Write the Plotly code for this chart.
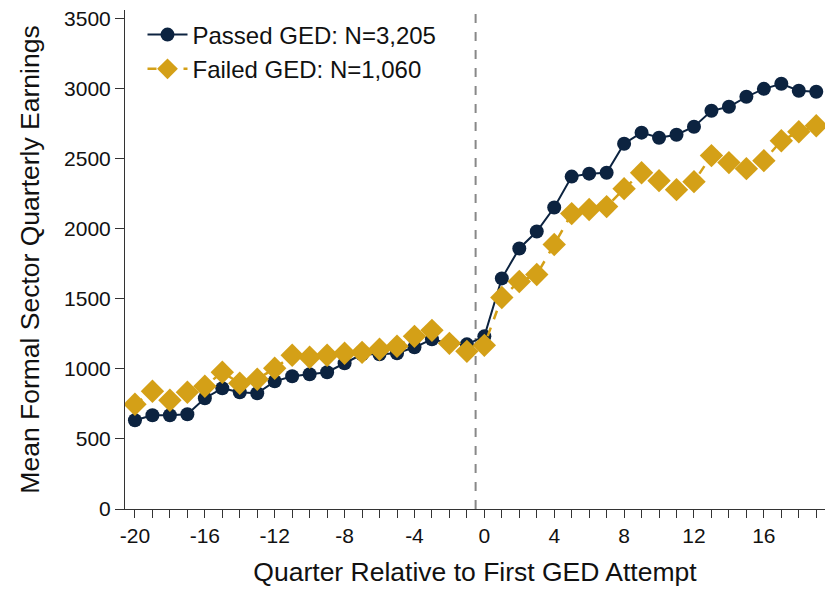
import plotly.graph_objects as go

quarters = list(range(-20, 20))
passed = [634, 670, 670, 677, 791, 862, 834, 827, 912, 948, 962, 977, 1041, 1105, 1105, 1112, 1155, 1212, 1183, 1176,
          1233, 1647, 1861, 1982, 2153, 2374, 2395, 2402, 2609, 2688, 2652, 2673, 2730, 2844, 2873, 2944, 3001, 3037, 2987, 2980]
failed = [748, 841, 777, 834, 877, 977, 898, 927, 1005, 1098, 1084, 1098, 1112, 1119, 1141, 1162, 1233, 1276, 1183, 1126,
          1169, 1511, 1625, 1675, 1889, 2110, 2139, 2160, 2288, 2402, 2345, 2281, 2338, 2524, 2474, 2431, 2488, 2630, 2694, 2737]
x_ticks = list(range(-20, 20))
x_labels = [str(v) if v % 4 == 0 else "" for v in x_ticks]
y_ticks = [0, 500, 1000, 1500, 2000, 2500, 3000, 3500]

NAVY = "#0c2340"
GOLD = "#d4a017"

fig = go.Figure()
fig.add_trace(go.Scatter(x=quarters, y=passed, mode="lines+markers", name="Passed GED: N=3,205",
                         line=dict(color=NAVY, width=2),
                         marker=dict(symbol="circle", size=14, color=NAVY)))
fig.add_trace(go.Scatter(x=quarters, y=failed, mode="lines+markers", name="Failed GED: N=1,060",
                         line=dict(color=GOLD, width=2.5, dash="dash"),
                         marker=dict(symbol="diamond", size=18, color=GOLD)))
fig.add_shape(type="line", x0=-0.5, x1=-0.5, y0=0, y1=1, yref="paper", xref="x",
              line=dict(color="#888888", width=2, dash="dash"), layer="below")

fig.update_layout(
    width=825, height=592,
    margin=dict(l=125, r=0, t=10, b=83),
    paper_bgcolor="white", plot_bgcolor="white",
    font=dict(family="Liberation Sans, Arial, sans-serif", color="#111111"),
    showlegend=True,
    legend=dict(x=0.025, y=0.995, xanchor="left", yanchor="top", traceorder="normal",
                font=dict(size=24), bgcolor="rgba(0,0,0,0)", itemwidth=40, tracegroupgap=0),
    xaxis=dict(range=[-20.57, 19.5], tickmode="array", tickvals=x_ticks, ticktext=x_labels,
               ticks="outside", ticklen=8, tickcolor="#333333", tickwidth=1,
               showline=True, linecolor="#333333", linewidth=1, showgrid=False, zeroline=False,
               tickfont=dict(size=21), automargin=False,
               title=dict(text="Quarter Relative to First GED Attempt", font=dict(size=26.5), standoff=16)),
    yaxis=dict(range=[0, 3564], tickmode="array", tickvals=y_ticks,
               ticks="outside", ticklen=9, tickcolor="#333333", tickwidth=1,
               showline=True, linecolor="#333333", linewidth=1, showgrid=False, zeroline=False,
               tickfont=dict(size=21), automargin=False,
               title=dict(text="Mean Formal Sector Quarterly Earnings", font=dict(size=26.5), standoff=16)),
)

fig.write_html("out.html", config={"displayModeBar": False},
               post_script="document.body.style.margin='0';")
